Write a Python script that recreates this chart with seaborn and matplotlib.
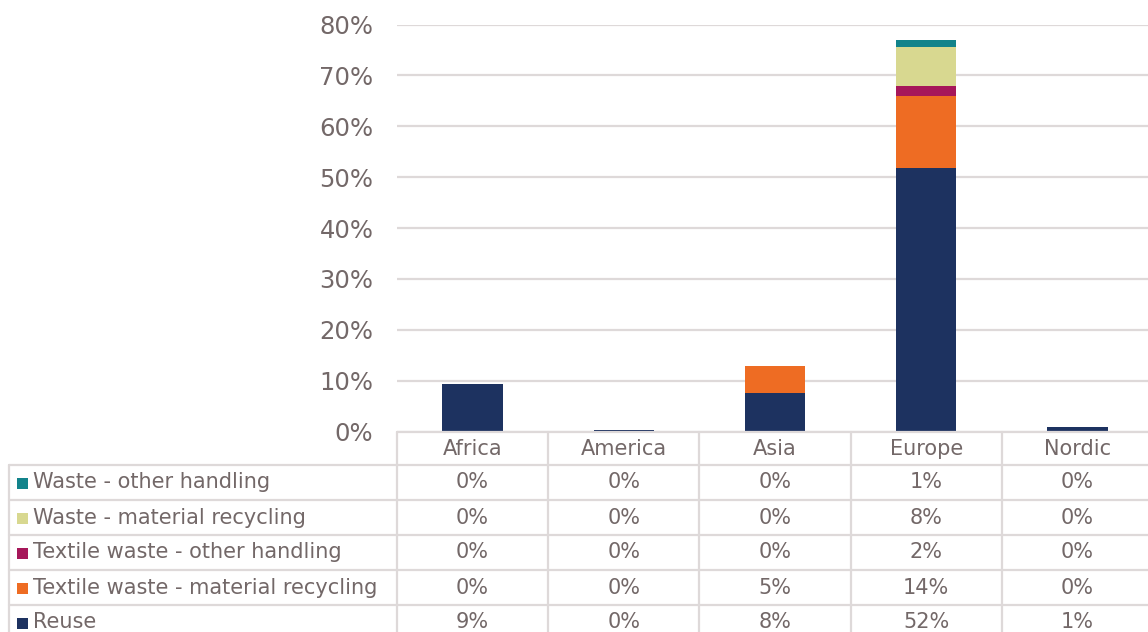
import numpy as np
import matplotlib
matplotlib.use("Agg")
import matplotlib.pyplot as plt
import seaborn as sns
from matplotlib.lines import Line2D
from matplotlib.patches import Rectangle
from matplotlib.ticker import PercentFormatter
from matplotlib.transforms import blended_transform_factory

# ---- data -------------------------------------------------------------
regions = ["Africa", "America", "Asia", "Europe", "Nordic"]
reuse = [0.093, 0.003, 0.076, 0.518, 0.008]
textile_recycling = [0.0, 0.0, 0.053, 0.141, 0.0]
textile_other = [0.0, 0.0, 0.0, 0.020, 0.0]
waste_recycling = [0.0, 0.0, 0.0, 0.076, 0.0]
waste_other = [0.0, 0.0, 0.0, 0.014, 0.0]

series_names = [
    "Reuse",
    "Textile waste - material recycling",
    "Textile waste - other handling",
    "Waste - material recycling",
    "Waste - other handling",
]
series_values = [reuse, textile_recycling, textile_other, waste_recycling, waste_other]
series_colors = ["#1D3260", "#EE6C23", "#A6175A", "#D8D890", "#12838B"]
y_ticks = np.arange(0, 0.81, 0.1)

# ---- style ------------------------------------------------------------
W, H = 1148, 632
sns.set_style("white")
plt.rcParams["font.family"] = ["DejaVu Sans"]
text_color = "#736868"
line_color = "#DED9D9"


def fy(px):
    """Figure-fraction y from a pixel row measured from the top."""
    return 1 - px / H


fig = plt.figure(figsize=(W / 100, H / 100), dpi=100)
ax_left, ax_right = 397, 1153
ax_top, ax_bottom = 24.5, 431.5
ax = fig.add_axes([ax_left / W, fy(ax_bottom),
                   (ax_right - ax_left) / W, (ax_bottom - ax_top) / H])

# ---- stacked bars -----------------------------------------------------
bottom = np.zeros(len(regions))
for name, vals, col in zip(series_names, series_values, series_colors):
    sns.barplot(x=regions, y=vals, color=col, width=0.4, bottom=bottom,
                saturation=1, errorbar=None, linewidth=0, zorder=3, ax=ax)
    bottom += np.asarray(vals)

ax.set_xlim(-0.5, 4.5)
ax.set_ylim(0, 0.8)
ax.set_yticks(y_ticks)
ax.yaxis.set_major_formatter(PercentFormatter(1.0, decimals=0))
ax.tick_params(axis="y", length=0, pad=17, labelsize=17.5, labelcolor=text_color)
ax.tick_params(axis="x", length=0, labelbottom=False)
ax.set_xlabel("")
ax.set_ylabel("")
ax.yaxis.grid(True, color=line_color, lw=1.6)
ax.set_axisbelow(True)
for s in ax.spines.values():
    s.set_visible(False)

# ---- data table below the plot ----------------------------------------
trans = blended_transform_factory(ax.transData, fig.transFigure)

# header row with region names
for i, r in enumerate(regions):
    ax.text(i, fy(449), r, transform=trans, ha="center", va="center",
            fontsize=15, color=text_color, clip_on=False)

row_tops = [465, 500, 535, 570, 605]
row_h = 35
table_rows = list(zip(series_names, series_values, series_colors))[::-1]
for top, (name, vals, col) in zip(row_tops, table_rows):
    cy = top + row_h / 2
    fig.add_artist(Rectangle((17 / W, fy(cy + 6)), 11 / W, 11 / H,
                             transform=fig.transFigure, color=col, lw=0))
    fig.text(33 / W, fy(cy), name, ha="left", va="center",
             fontsize=15, color=text_color)
    for i, v in enumerate(vals):
        ax.text(i, fy(cy), f"{v:.0%}", transform=trans, ha="center",
                va="center", fontsize=15, color=text_color, clip_on=False)

# grid lines of the table
def hline(y, x0, x1):
    fig.add_artist(Line2D([x0 / W, x1 / W], [fy(y), fy(y)],
                          transform=fig.transFigure, color=line_color, lw=1.6))


def vline(x, y0, y1):
    fig.add_artist(Line2D([x / W, x / W], [fy(y0), fy(y1)],
                          transform=fig.transFigure, color=line_color, lw=1.6))


hline(ax_bottom, ax_left, W)
for top in row_tops:
    hline(top, 9, W)
vline(9, row_tops[0], H)
col_w = (ax_right - ax_left) / len(regions)
for k in range(len(regions)):
    vline(ax_left + k * col_w, ax_bottom, H)

fig.savefig("out.png", dpi=100)
